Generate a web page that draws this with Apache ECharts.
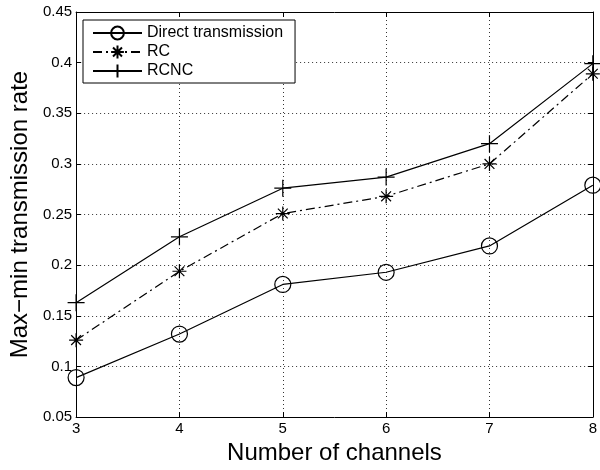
<!DOCTYPE html>
<html>
<head>
<meta charset="utf-8">
<script src="https://cdn.jsdelivr.net/npm/echarts@6/dist/echarts.min.js"></script>
<style>
  html, body { margin: 0; padding: 0; background: #fff; }
  #main { width: 600px; height: 470px; }
</style>
</head>
<body>
<div id="main"></div>
<script>
var channels = [3, 4, 5, 6, 7, 8];
var directVals = [0.089, 0.132, 0.181, 0.193, 0.219, 0.279];
var rcVals = [0.126, 0.194, 0.251, 0.268, 0.300, 0.389];
var rcncVals = [0.163, 0.228, 0.276, 0.287, 0.320, 0.399];
var yTicks = [0.05, 0.1, 0.15, 0.2, 0.25, 0.3, 0.35, 0.4, 0.45];

function pairs(vals) {
  return channels.map(function (c, i) { return [c, vals[i]]; });
}

var starPath = 'path://M0,5L10,5M5,0L5,10M1.5,1.5L8.5,8.5M1.5,8.5L8.5,1.5';
var plusPath = 'path://M0,5L10,5M5,0L5,10';
var font = 'Liberation Sans, Arial, sans-serif';

var chart = echarts.init(document.getElementById('main'));

var gridLine = { show: true, lineStyle: { color: '#000', type: [1, 3], width: 0.8 } };

var option = {
  animation: false,
  backgroundColor: '#fff',
  grid: { left: 75, right: 3, top: 12, bottom: 49 },
  legend: {
    left: 83, top: 20,
    orient: 'vertical',
    backgroundColor: '#fff',
    borderColor: '#000',
    borderWidth: 1,
    borderRadius: 0,
    padding: [5, 12, 4, 9],
    itemGap: 3,
    itemWidth: 49,
    itemHeight: 16,
    textStyle: { fontFamily: font, fontSize: 16, color: '#000', lineHeight: 16 },
    data: ['Direct transmission', 'RC', 'RCNC']
  },
  xAxis: [{
    type: 'value', min: 3, max: 8, interval: 1,
    name: 'Number of channels', nameLocation: 'middle', nameGap: 22,
    nameTextStyle: { fontFamily: font, fontSize: 24, color: '#000' },
    axisLine: { onZero: false, lineStyle: { color: '#000', width: 1 } },
    axisTick: { inside: true, length: 5, lineStyle: { color: '#000' } },
    axisLabel: { fontFamily: font, fontSize: 15, color: '#000', margin: 4 },
    splitLine: gridLine
  }, {
    type: 'value', min: 3, max: 8, interval: 1, position: 'top',
    axisLine: { onZero: false, lineStyle: { color: '#000', width: 1 } },
    axisTick: { inside: true, length: 5, lineStyle: { color: '#000' } },
    axisLabel: { show: false },
    splitLine: { show: false }
  }],
  yAxis: [{
    type: 'value', min: 0.05, max: 0.45, interval: 0.05,
    name: 'Max\u2212min transmission rate', nameLocation: 'middle', nameGap: 43,
    nameTextStyle: { fontFamily: font, fontSize: 24, color: '#000' },
    axisLine: { show: true, onZero: false, lineStyle: { color: '#000', width: 1 } },
    axisTick: { show: true, inside: true, length: 5, lineStyle: { color: '#000' } },
    axisLabel: {
      fontFamily: font, fontSize: 15, color: '#000', margin: 4,
      formatter: function (v) {
        var t = yTicks.find(function (k) { return Math.abs(k - v) < 1e-9; });
        return t === undefined ? '' : String(t);
      }
    },
    splitLine: gridLine
  }, {
    type: 'value', min: 0.05, max: 0.45, interval: 0.05, position: 'right',
    axisLine: { show: true, onZero: false, lineStyle: { color: '#000', width: 1 } },
    axisTick: { show: true, inside: true, length: 5, lineStyle: { color: '#000' } },
    axisLabel: { show: false },
    splitLine: { show: false }
  }],
  series: [{
    name: 'Direct transmission',
    type: 'line',
    data: pairs(directVals),
    symbol: 'circle',
    symbolSize: 16,
    showAllSymbol: true,
    lineStyle: { color: '#000', width: 1.2 },
    itemStyle: { color: 'rgba(0,0,0,0)', borderColor: '#000', borderWidth: 1.2 },
    z: 3
  }, {
    name: 'RC',
    type: 'line',
    data: pairs(rcVals),
    symbol: starPath,
    symbolSize: 14,
    lineStyle: { color: '#000', width: 1.2, type: [9, 4, 2, 4] },
    itemStyle: { color: 'rgba(0,0,0,0)', borderColor: '#000', borderWidth: 1.2, borderType: 'solid' },
    z: 3
  }, {
    name: 'RCNC',
    type: 'line',
    data: pairs(rcncVals),
    symbol: plusPath,
    symbolSize: 17,
    lineStyle: { color: '#000', width: 1.2 },
    itemStyle: { color: 'rgba(0,0,0,0)', borderColor: '#000', borderWidth: 1.2 },
    z: 3
  }]
};

chart.setOption(option);
</script>
</body>
</html>
